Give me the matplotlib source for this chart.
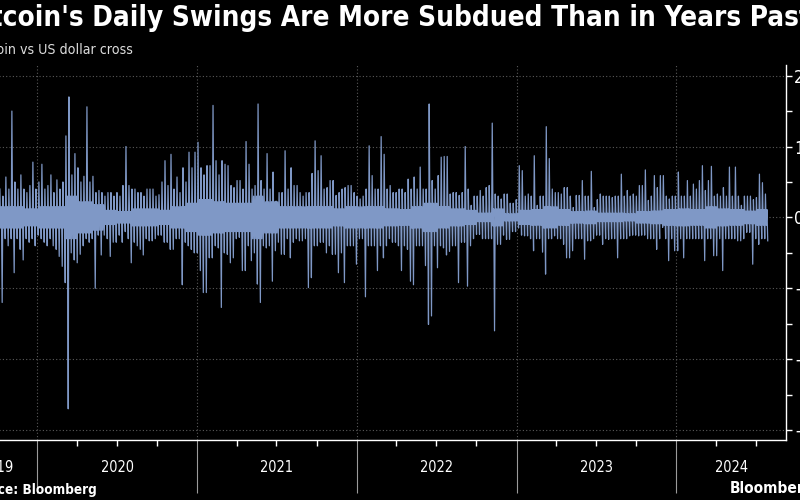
import numpy as np
import pandas as pd
import matplotlib
matplotlib.use('Agg')
import matplotlib.pyplot as plt
import matplotlib.dates as mdates
import matplotlib.transforms as mtrans
from matplotlib import font_manager

# weekly extremes of daily % change, Bitcoin vs USD
wk_hi = [4, 3, 5.7, 4, 15, 5, 4, 6, 4, 3.5,
         4.5, 7.8, 4, 5, 7.5, 4, 4.5, 6, 3.5, 5.3,
         4, 5, 11.5, 17, 6, 9, 7, 5, 5.8, 15.6,
         5, 5.8, 3.5, 3.8, 3.5, 3, 3.5, 3.5, 3, 3.5,
         3, 4.5, 10, 4.5, 4, 4, 3.5, 3.5, 3, 4,
         4, 4, 3, 3.2, 5, 8, 4.5, 8.9, 4, 5.7,
         3.5, 7, 5, 9.2, 7, 9.2, 10.6, 7, 6, 7.3,
         7.3, 15.8, 8, 6, 8, 7.5, 7.3, 4.5, 4.2, 5.2,
         5.2, 4, 10.7, 7.5, 4, 4.5, 16, 5.2, 4, 9,
         4, 6.4, 2.3, 3.5, 3.5, 9.4, 4, 7, 4.5, 4.5,
         3.5, 3, 3.5, 3.5, 6.2, 10.8, 6.6, 8.7, 4, 4.2,
         5.2, 5.2, 3.1, 3.5, 4, 4.2, 4.5, 4.5, 3.5, 3,
         2.6, 3, 4, 10.1, 5.9, 4, 4, 11.4, 8.9, 4,
         4.5, 3.5, 3.5, 4, 4, 3.5, 5.4, 4, 5.7, 4,
         7.1, 4, 4, 16, 5.2, 4, 5.9, 8.5, 8.6, 8.6,
         3.3, 3.5, 3.5, 3.1, 3.5, 10, 4, 1.7, 3, 3,
         3.8, 3, 4.2, 4.5, 13.3, 3.3, 3, 2.6, 3.3, 3.3,
         2, 2, 2.5, 7.3, 6.6, 3, 3.3, 3, 8.7, 1.7,
         3, 3, 12.8, 8.3, 4, 3.5, 3.5, 3.3, 4.2, 4.2,
         3, 1.4, 3.1, 3.1, 5.2, 3, 3, 6.5, 1.4, 2.5,
         3.3, 3, 3, 3, 2.8, 3, 3, 6.1, 3, 3.8,
         3, 3.3, 3, 4.5, 4.5, 6.7, 2.4, 3, 5.9, 4.2,
         5.9, 5.9, 3, 2.6, 3, 3, 6.4, 3, 3, 5.2,
         3, 4.7, 4, 5.2, 7.3, 3.8, 5.2, 7.2, 3, 3.3,
         3, 4.2, 3, 7.1, 3, 7.1, 3, 1.7, 3, 3,
         3, 2.5, 2.8, 6.1, 4.9, 3.3]
wk_lo = [-12, -3, -4, -3, -7.8, -3, -4.5, -6, -3, -3.5,
         -3, -4, -2.5, -3, -3.5, -4, -3, -4, -4.5, -5.5,
         -6.9, -9.2, -27, -5, -6, -6.4, -5.2, -4, -3, -3.5,
         -3, -10, -2.5, -5.3, -2.5, -3, -5.5, -3.5, -3.5, -2.5,
         -3.5, -2, -3, -6.4, -3.5, -4, -4.5, -5.3, -3, -3.3,
         -3.3, -3, -2.5, -2.5, -3.5, -3.5, -4.5, -4.5, -3, -3,
         -9.5, -3.5, -4, -4.5, -5, -5, -7.5, -10.6, -10.6, -5.7,
         -5.7, -4, -4.3, -12.7, -5, -5.2, -6.4, -5.7, -3, -2.8,
         -7.5, -7.5, -4, -6.1, -5, -9.4, -12, -4, -4.3, -4,
         -9, -4.7, -3.5, -5.2, -5.2, -3, -5.7, -3.5, -3, -3.3,
         -3.3, -3, -9.9, -8.5, -4, -4, -3.5, -3.5, -5, -4,
         -5.2, -5.2, -7.8, -5, -9.2, -4, -4, -4, -6.6, -3,
         -3, -11.2, -4, -4, -4, -7.5, -4, -5.7, -4, -3,
         -3.5, -3.5, -4, -7.5, -4, -4.5, -9, -9.5, -4, -4,
         -4, -6.8, -15.1, -13.9, -4, -7.1, -4, -4.3, -5.3, -4.8,
         -4, -4, -9.2, -3.5, -3.5, -9.7, -4, -3, -2.4, -2.4,
         -3, -3, -3, -3, -16, -3.8, -3.8, -2.5, -3.1, -3.1,
         -2, -2, -1.5, -2.5, -2.6, -2.6, -3, -4.7, -3, -3,
         -4.9, -8, -3, -3, -2.6, -3, -3, -3.8, -5.7, -5.7,
         -4.7, -3, -3, -3, -5.9, -3.3, -3.3, -3, -2.5, -2.5,
         -3.8, -3, -3.1, -3, -3, -5.7, -3, -3, -3, -2.6,
         -2.5, -2.5, -2.6, -2.5, -2.5, -3, -3, -3, -4.5, -3,
         -1.4, -3, -6.1, -3, -4.7, -4.7, -3, -5.7, -3, -3,
         -3, -3, -3, -3, -6.1, -3, -3, -5.4, -5.4, -3,
         -7.5, -3, -3, -3, -3, -3.3, -3.3, -3, -2.1, -2.1,
         -6.6, -3, -3.8, -3, -3, -3.3]
# half-width of the dense core of the band, per month from Oct 2019
core_month = ['2019-10', '2019-11', '2019-12',
              '2020-01', '2020-02', '2020-03', '2020-04', '2020-05', '2020-06',
              '2020-07', '2020-08', '2020-09', '2020-10', '2020-11', '2020-12',
              '2021-01', '2021-02', '2021-03', '2021-04', '2021-05', '2021-06',
              '2021-07', '2021-08', '2021-09', '2021-10', '2021-11', '2021-12',
              '2022-01', '2022-02', '2022-03', '2022-04', '2022-05', '2022-06',
              '2022-07', '2022-08', '2022-09', '2022-10', '2022-11', '2022-12',
              '2023-01', '2023-02', '2023-03', '2023-04', '2023-05', '2023-06',
              '2023-07', '2023-08', '2023-09', '2023-10', '2023-11', '2023-12',
              '2024-01', '2024-02', '2024-03', '2024-04', '2024-05', '2024-06',
              '2024-07']
core_val = [1.5, 1.5, 1.2,
            1.5, 1.5, 3.0, 2.2, 1.8, 1.0, 0.8, 1.2, 1.2, 1.0, 1.5, 2.0,
            2.5, 2.2, 2.0, 2.0, 3.0, 2.2, 1.5, 1.5, 1.5, 1.5, 1.2, 1.5,
            1.5, 1.5, 1.2, 1.1, 1.5, 2.0, 1.5, 1.2, 1.0, 0.6, 1.2, 0.5,
            1.0, 1.1, 1.5, 1.1, 0.8, 0.9, 0.6, 0.6, 0.5, 0.8, 0.9, 1.1,
            1.2, 1.1, 1.5, 1.2, 1.1, 0.9, 1.1]
first_week = '2019-10-08'
last_week = '2024-07-23'
years = [2019, 2020, 2021, 2022, 2023, 2024]
y_major = [20, 10, 0, -10, -20, -30]
y_minor = [15, 5, -5, -15, -25]

title = "Bitcoin's Daily Swings Are More Subdued Than in Years Past"
subtitle = "Bitcoin vs US dollar cross"
source = "Source: Bloomberg"

# pick the narrowest sans that is installed
names = {(f.name, f.stretch) for f in font_manager.fontManager.ttflist}
if any(nm == 'Liberation Sans Narrow' for nm, _ in names):
    FAM, STRETCH = 'Liberation Sans Narrow', 'normal'
elif ('DejaVu Sans', 'condensed') in names or ('DejaVu Sans', 'semi-condensed') in names:
    FAM, STRETCH = 'DejaVu Sans', 'condensed'
else:
    FAM, STRETCH = 'Liberation Sans', 'normal'
plt.rcParams['font.family'] = [FAM, 'DejaVu Sans']
plt.rcParams['font.stretch'] = STRETCH

LINE = '#7f98c6'
GRID = '#5a5a5a'

weeks = pd.date_range(first_week, last_week, periods=len(wk_hi))
core = pd.Series(core_val, index=core_month)
wk_core = core.loc[weeks.strftime('%Y-%m')].values
n = len(weeks)
t = np.empty(4 * n, dtype='datetime64[ns]')
v = np.empty(4 * n)
for k, (h, val) in enumerate([(0, wk_hi), (42, -wk_core), (84, wk_core), (126, wk_lo)]):
    t[k::4] = (weeks + pd.Timedelta(hours=h)).values
    v[k::4] = val
# keep the core inside the week's range
v[1::4] = np.maximum(v[1::4], np.array(wk_lo))
v[2::4] = np.minimum(v[2::4], np.array(wk_hi))

fig = plt.figure(figsize=(8, 5), dpi=100, facecolor='black')
ax = fig.add_axes([-43 / 800, 60 / 500, 829 / 800, 375 / 500])
ax.set_facecolor('black')
ax.plot(t, v, color=LINE, lw=0.9, zorder=3)

x0, x1 = pd.Timestamp('2019-07-02'), pd.Timestamp('2024-09-08')
ax.set_xlim(x0, x1)
ax.set_ylim(-31.4, 21.5)

for s in ['top', 'left']:
    ax.spines[s].set_visible(False)
for s in ['right', 'bottom']:
    ax.spines[s].set_color('white')
    ax.spines[s].set_linewidth(1.0)

ax.yaxis.tick_right()
ax.set_yticks(y_major)
ax.set_yticks(y_minor, minor=True)
ax.tick_params(axis='y', which='both', colors='white', direction='out',
               length=4, width=1, labelsize=12.5, pad=2)

ax.xaxis.set_major_locator(mdates.YearLocator())
ax.xaxis.set_minor_locator(mdates.MonthLocator(bymonth=[4, 7, 10]))
ax.tick_params(axis='x', which='major', length=38, width=0.8, color='#9a9a9a',
               labelbottom=False)
ax.tick_params(axis='x', which='minor', length=4, width=1, color='white')

ax.grid(True, which='major', color=GRID, lw=0.8, ls=(0, (1, 2)))

tr = mtrans.blended_transform_factory(ax.transData, ax.transAxes)
year_txt = []
for yr in years:
    a = max(pd.Timestamp(f'{yr}-01-01'), x0)
    b = min(pd.Timestamp(f'{yr + 1}-01-01'), x1)
    mid = a + (b - a) / 2
    year_txt.append(ax.text(mid, -0.072, str(yr), transform=tr, ha='center',
                            va='center', color='white', fontsize=12.5))

t_title = fig.text(-37 / 800, 1 - 18 / 500, title, ha='left', va='center',
                   color='white', fontsize=19, fontweight='bold')
t_sub = fig.text(-28 / 800, 1 - 50 / 500, subtitle, ha='left', va='center',
                 color='#dddddd', fontsize=11)
t_src = fig.text(-34 / 800, 1 - 490 / 500, source, ha='left', va='center',
                 color='white', fontsize=11, fontweight='bold')
t_logo = fig.text(730 / 800, 1 - 488 / 500, 'Bloomberg', ha='left', va='center',
                  color='white', fontsize=14, fontweight='bold')

# size texts so they span the same width as in the reference
r = fig.canvas.get_renderer()
for obj, width in [(t_title, 849), (t_sub, 160), (t_src, 131), (t_logo, 85)]:
    w = obj.get_window_extent(r).width
    obj.set_fontsize(obj.get_fontsize() * width / w)
w = year_txt[1].get_window_extent(r).width
for obj in year_txt:
    obj.set_fontsize(obj.get_fontsize() * 33 / w)

fig.savefig('out.png', dpi=100, facecolor='black')
